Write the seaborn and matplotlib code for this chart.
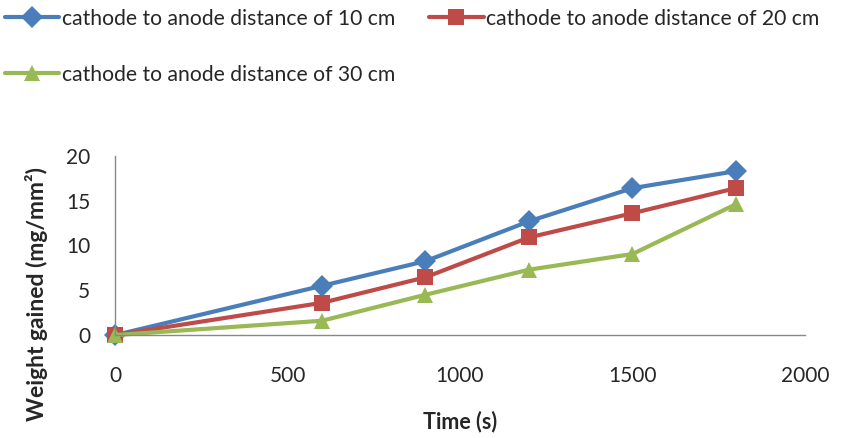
import matplotlib
matplotlib.use("Agg")
import matplotlib.pyplot as plt
import seaborn as sns
import pandas as pd

time_s = [0, 600, 900, 1200, 1500, 1800]
series_names = ["cathode to anode distance of 10 cm",
                "cathode to anode distance of 20 cm",
                "cathode to anode distance of 30 cm"]
d10 = [0, 5.5, 8.25, 12.7, 16.4, 18.3]
d20 = [0, 3.6, 6.45, 10.9, 13.6, 16.4]
d30 = [0, 1.6, 4.5, 7.3, 9.05, 14.6]
x_ticks = [0, 500, 1000, 1500, 2000]
y_ticks = [0, 5, 10, 15, 20]

df = pd.DataFrame({
    "Time": time_s * 3,
    "Weight": d10 + d20 + d30,
    "Series": [series_names[0]] * 6 + [series_names[1]] * 6 + [series_names[2]] * 6,
})

sns.set_theme(style="white")
plt.rcParams["font.family"] = ["Lato", "DejaVu Sans"]

fig = plt.figure(figsize=(8.49, 4.38), dpi=100)
ax = fig.add_axes([0.1355, 0.235, 0.8125, 0.409])

palette = {series_names[0]: "#4A7EBB", series_names[1]: "#BE4B48", series_names[2]: "#98B954"}
markers = {series_names[0]: "D", series_names[1]: "s", series_names[2]: "^"}
sns.lineplot(data=df, x="Time", y="Weight", hue="Series", style="Series",
             palette=palette, markers=markers, dashes=False, linewidth=3,
             markersize=11, markeredgewidth=0, ax=ax, legend=True)
for ln in ax.lines:
    ln.set_clip_on(False)

ax.set_xlim(0, 2000)
ax.set_ylim(0, 20)
ax.set_xticks(x_ticks)
ax.set_yticks(y_ticks)
ax.tick_params(axis="x", labelsize=15, pad=22, length=0)
ax.tick_params(axis="y", labelsize=15, pad=18, length=0)
for s in ["top", "right"]:
    ax.spines[s].set_visible(False)
for s in ["left", "bottom"]:
    ax.spines[s].set_color("#888888")
    ax.spines[s].set_linewidth(1)
ax.set_xlabel("Time (s)", fontsize=15.5, fontweight="bold", labelpad=18)
ax.set_ylabel("Weight gained (mg/mm²)", fontsize=16.5, fontweight="bold")
ax.yaxis.set_label_coords(-0.097, 0.23)

handles, labels = ax.get_legend_handles_labels()
ax.get_legend().remove()
order = [0, 2, 1]
fig.legend([handles[i] for i in order], [labels[i] for i in order],
           loc="upper left", bbox_to_anchor=(-0.012, 1.014), ncol=2,
           frameon=False, fontsize=15.2, handlelength=2.6, handletextpad=0.1,
           columnspacing=1.6, labelspacing=1.7, borderaxespad=0.3)

fig.savefig("out.png", dpi=100)
